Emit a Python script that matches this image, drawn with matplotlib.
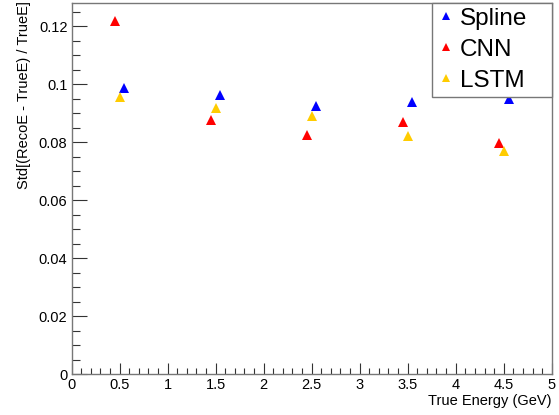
"""
Energy resolution vs true energy for the three reconstruction methods
(Spline, CNN, LSTM), drawn in a ROOT-like style.
"""

import matplotlib
matplotlib.use("Agg")
import matplotlib.pyplot as plt
from matplotlib.ticker import MultipleLocator

# Data (points are offset a bit in x per method)
spline_x = [0.55, 1.55, 2.55, 3.55, 4.55]
spline_res = [0.0986, 0.0963, 0.0923, 0.0940, 0.0948]

cnn_x = [0.45, 1.45, 2.45, 3.45, 4.45]
cnn_res = [0.1217, 0.0877, 0.0825, 0.0869, 0.0797]

lstm_x = [0.50, 1.50, 2.50, 3.50, 4.50]
lstm_res = [0.0955, 0.0917, 0.0890, 0.0823, 0.0768]

labels = ["Spline", "CNN", "LSTM"]
colors = ["#0000ff", "#ff0000", "#ffcc00"]

plt.rcParams["font.family"] = ["Liberation Sans", "DejaVu Sans"]

fig = plt.figure(figsize=(5.59, 4.15), dpi=100)
ax = fig.add_axes([0.128, 0.098, 0.859, 0.895])

series = [(spline_x, spline_res), (cnn_x, cnn_res), (lstm_x, lstm_res)]
handles = []
for (xs, ys), lab, col in zip(series, labels, colors):
    (h,) = ax.plot(xs, ys, linestyle="none", marker="^", markersize=7.5,
                   color=col, markeredgewidth=0, label=lab)
    handles.append(h)

ax.set_xlim(0, 5)
ax.set_ylim(0, 0.128)

# ROOT-ish ticks: inward, majors + minors
ax.xaxis.set_minor_locator(MultipleLocator(0.1))
ax.yaxis.set_minor_locator(MultipleLocator(0.005))
ax.set_xticks([0, 0.5, 1, 1.5, 2, 2.5, 3, 3.5, 4, 4.5, 5])
ax.set_xticklabels(["0", "0.5", "1", "1.5", "2", "2.5", "3", "3.5", "4", "4.5", "5"])
ax.set_yticks([0, 0.02, 0.04, 0.06, 0.08, 0.1, 0.12])
ax.set_yticklabels(["0", "0.02", "0.04", "0.06", "0.08", "0.1", "0.12"])

ax.tick_params(axis="both", which="both", direction="in", colors="#333333",
               labelcolor="black", labelsize=10.5, width=0.8)
ax.tick_params(axis="x", which="major", length=8, pad=3)
ax.tick_params(axis="x", which="minor", length=4.5)
ax.tick_params(axis="y", which="major", length=11, pad=3)
ax.tick_params(axis="y", which="minor", length=5.5)

for side in ["left", "bottom", "top", "right"]:
    ax.spines[side].set_color("#777777")
    ax.spines[side].set_linewidth(1.0)

ax.set_xlabel("True Energy (GeV)", fontsize=10.5, loc="right", labelpad=1)
ax.set_ylabel("Std[(RecoE - TrueE) / TrueE]", fontsize=10.5, loc="top")
ax.yaxis.set_label_coords(-0.085, 1.004)

# legend box stretched over the upper right corner, like the ROOT TLegend
leg = ax.legend(handles=handles, loc="upper right",
                bbox_to_anchor=(0.751, 0.0, 0.249, 1.0), mode="expand",
                fontsize=17.5, frameon=True, fancybox=False, framealpha=1,
                edgecolor="#777777", borderaxespad=0, markerscale=0.8,
                handlelength=0.7, handletextpad=0.25, labelspacing=0.37,
                borderpad=0.2)
leg.get_frame().set_linewidth(1.0)
leg.set_zorder(5)

plt.savefig("out.png", dpi=100)
plt.close()
